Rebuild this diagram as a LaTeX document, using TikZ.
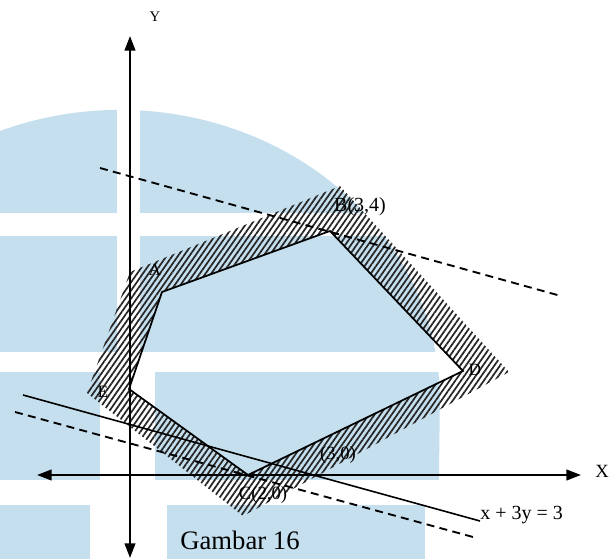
\documentclass[tikz,border=0pt]{standalone}
\usepackage{fontspec}
\setmainfont{Liberation Serif}
\usetikzlibrary{arrows.meta,patterns.meta}
\definecolor{wm}{RGB}{197,223,238}
\tikzset{
  axisline/.style={line width=1.6pt,{Triangle[length=11pt,width=8pt]}-{Triangle[length=11pt,width=8pt]}},
  edgeline/.style={line width=1.3pt},
  dashline/.style={line width=1.4pt,dash pattern=on 6pt off 4pt},
  solidline/.style={line width=1.2pt},
  hatchband/.style={pattern={Lines[angle=55,distance=3.5pt,line width=1.3pt]},pattern color=black!85,even odd rule},
  lbl/.style={inner sep=0pt,font=\fontsize{14}{14}\selectfont},
  vlbl/.style={inner sep=0pt,font=\fontsize{13}{13}\selectfont},
}
\begin{document}
\begin{tikzpicture}[x=0.75pt,y=-0.75pt]
\useasboundingbox (0,0) rectangle (611,559);
% watermark
\fill[wm] (0,559) -- (0,131) arc[start angle=-112,end angle=0,x radius=320,y radius=290] -- (438,559) -- cycle;
\fill[white] (0,213) rectangle (611,236);
\fill[white] (0,352) rectangle (611,372);
\fill[white] (0,480) rectangle (611,505);
\fill[white] (117,100) rectangle (140,352);
\fill[white] (100,372) rectangle (155,480);
\fill[white] (90,505) rectangle (167,559);
\fill[white] (425,505) rectangle (611,559);
% polygon vertices
\coordinate (A) at (162,292);
\coordinate (B) at (330,231);
\coordinate (D) at (463,371);
\coordinate (C) at (248,475);
\coordinate (E) at (129,389);
\coordinate (Ao) at (130,272);
\coordinate (Bo) at (340,186);
\coordinate (Do) at (509,372);
\coordinate (Co) at (243,516);
\coordinate (Eo) at (87,393);
% hatched band
\fill[hatchband] (Ao) -- (Bo) -- (Do) -- (Co) -- (Eo) -- cycle (A) -- (B) -- (D) -- (C) -- (E) -- cycle;
% axes
\coordinate (xl) at (37,475);
\coordinate (xr) at (581,475);
\coordinate (yb) at (130,558);
\coordinate (yt) at (130,36);
\draw[axisline] (xl) -- (xr);
\draw[axisline] (yb) -- (yt);
% polygon edges
\draw[edgeline] (A) -- (B) -- (D) -- (C) -- (E) -- cycle;
% dashed lines
\coordinate (u1) at (100,168);
\coordinate (u2) at (561,296);
\coordinate (l1) at (15,412);
\coordinate (l2) at (473,537);
\draw[dashline] (u1) -- (u2);
\draw[dashline] (l1) -- (l2);
% line x+3y=3
\coordinate (s1) at (23,395);
\coordinate (s2) at (480,521);
\draw[solidline] (s1) -- (s2);
% labels
\node[inner sep=0pt,font=\fontsize{11}{11}\selectfont] (ylab) at (155,17) {Y};
\node[lbl] (xlab) at (602,471) {X};
\node[vlbl] (alab) at (155,270) {A};
\node[lbl,font=\fontsize{15}{15}\selectfont] (blab) at (360,207) {B(3,4)};
\node[vlbl] (dlab) at (475,370) {D};
\node[vlbl] (elab) at (103,392) {E};
\node[lbl] (tlab) at (338,455) {(3,0)};
\node[lbl] (clab) at (263,495) {C(2,0)};
\node[lbl,anchor=west,font=\fontsize{15}{15}\selectfont] (eqlab) at (480,515) {x + 3y = 3};
\node[inner sep=0pt,font=\fontsize{20}{20}\selectfont] (cap) at (240,540) {Gambar 16};
\end{tikzpicture}
\end{document}
